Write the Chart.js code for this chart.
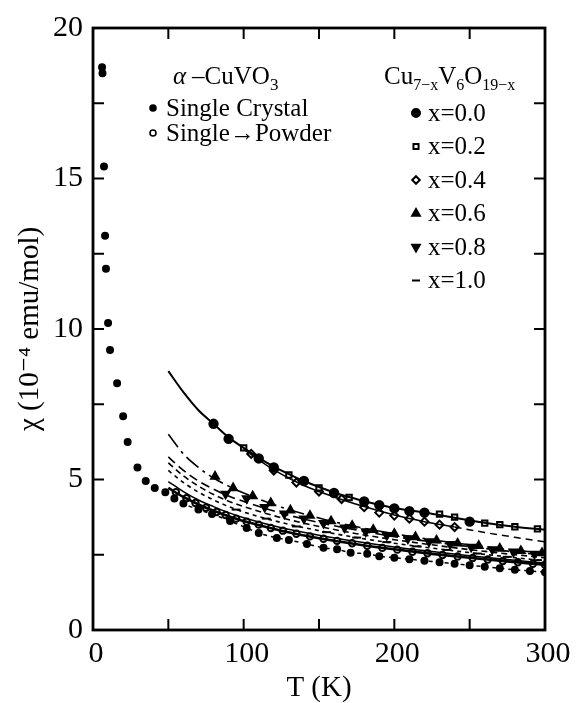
<!DOCTYPE html>
<html>
<head>
<meta charset="utf-8">
<script src="https://cdn.jsdelivr.net/npm/chart.js@4.4.1/dist/chart.umd.min.js"></script>
<style>
  html, body { margin: 0; padding: 0; background: #fff; }
  canvas { display: block; }
</style>
</head>
<body>
<canvas id="chiChart" width="580" height="703"></canvas>
<script>
// alpha-CuVO3 single crystal, full range
const crystalT = [6, 6.3, 7.3, 8, 8.6, 10, 11.3, 16, 20, 23, 29.5, 35, 41, 48, 54, 60, 70, 79, 91, 102, 110, 122, 130, 142, 153, 162, 171, 182, 190, 200, 210, 220, 230, 240, 250, 260, 270, 280, 290, 300];
const crystalChi = [18.7, 18.5, 15.4, 13.1, 12.0, 10.2, 9.3, 8.2, 7.1, 6.25, 5.4, 4.95, 4.72, 4.58, 4.37, 4.2, 4.0, 3.85, 3.62, 3.39, 3.22, 3.06, 2.99, 2.86, 2.73, 2.68, 2.57, 2.53, 2.45, 2.4, 2.35, 2.3, 2.25, 2.2, 2.15, 2.1, 2.05, 2.0, 1.96, 1.92];

// single crystal ground to powder
const powderT = [55, 62, 68, 75, 82, 88, 95, 102, 110, 118, 126, 135, 144, 153, 162, 172, 182, 192, 202, 212, 222, 232, 242, 252, 262, 272, 282, 292, 300];
const powderChi = [4.58, 4.38, 4.22, 4.06, 3.92, 3.82, 3.7, 3.6, 3.5, 3.39, 3.3, 3.2, 3.11, 3.03, 2.96, 2.88, 2.8, 2.73, 2.67, 2.6, 2.55, 2.49, 2.44, 2.39, 2.34, 2.29, 2.25, 2.2, 2.17];

// Cu(7-x)V6O(19-x) samples
const x00T = [80, 90, 110, 120, 140, 160, 180, 190, 200, 210, 220, 250];
const x00Chi = [6.85, 6.35, 5.7, 5.4, 4.95, 4.55, 4.27, 4.15, 4.04, 3.95, 3.9, 3.6];
const x02T = [100, 130, 150, 170, 230, 240, 260, 270, 280, 295];
const x02Chi = [6.05, 5.15, 4.72, 4.4, 3.85, 3.75, 3.55, 3.5, 3.43, 3.36];
const x04T = [105, 120, 135, 150, 165, 180, 190, 200, 210, 220, 230, 240];
const x04Chi = [5.85, 5.3, 4.9, 4.6, 4.35, 4.08, 3.9, 3.8, 3.7, 3.6, 3.5, 3.42];
const x06T = [81, 93, 106, 118, 131, 144, 158, 172, 186, 200, 214, 228, 242, 256, 270, 284, 298];
const x06Chi = [5.1, 4.72, 4.45, 4.22, 3.98, 3.8, 3.62, 3.47, 3.33, 3.2, 3.09, 2.98, 2.88, 2.8, 2.71, 2.63, 2.56];
const x08T = [88, 102, 114, 127, 140, 153, 167, 181, 195, 209, 223, 237, 251, 265, 279, 293];
const x08Chi = [4.52, 4.37, 4.08, 3.86, 3.7, 3.55, 3.4, 3.27, 3.15, 3.04, 2.94, 2.85, 2.76, 2.68, 2.6, 2.53];
const x10T = [95, 115, 135, 155, 175, 195, 215, 235, 255, 275, 295];
const x10Chi = [4.0, 3.7, 3.44, 3.25, 3.07, 2.92, 2.78, 2.66, 2.54, 2.43, 2.32];

// fitted curves
const topFitT = [50, 60, 70, 80, 90, 100, 110, 120, 130, 140, 150, 160, 170, 180, 190, 200, 220, 240, 260, 280, 300];
const topFit = [8.6, 7.9, 7.3, 6.85, 6.4, 6.05, 5.72, 5.43, 5.18, 4.95, 4.75, 4.57, 4.42, 4.28, 4.16, 4.05, 3.9, 3.73, 3.56, 3.43, 3.33];
const x04FitT = [100, 120, 140, 160, 180, 200, 220, 240];
const x04Fit = [6.0, 5.32, 4.8, 4.42, 4.1, 3.82, 3.6, 3.42];
const x04TailT = [240, 260, 280, 300];
const x04Tail = [3.42, 3.24, 3.08, 2.93];
const bundleT = [50, 60, 70, 80, 90, 100, 125, 150, 175, 200, 225, 250, 275, 300];
const fitA = [6.5, 5.85, 5.4, 5.05, 4.78, 4.55, 4.08, 3.72, 3.43, 3.2, 3.0, 2.83, 2.68, 2.55];
const fitB = [5.75, 5.3, 4.95, 4.68, 4.45, 4.27, 3.88, 3.57, 3.32, 3.1, 2.93, 2.77, 2.62, 2.48];
const fitC = [5.55, 5.12, 4.78, 4.5, 4.28, 4.1, 3.73, 3.44, 3.2, 3.0, 2.83, 2.67, 2.53, 2.4];
const fitD = [5.3, 4.9, 4.58, 4.32, 4.1, 3.92, 3.57, 3.3, 3.07, 2.88, 2.72, 2.57, 2.43, 2.3];
const fitE = [4.93, 4.6, 4.32, 4.1, 3.9, 3.73, 3.4, 3.15, 2.94, 2.76, 2.61, 2.47, 2.34, 2.22];
const fitF = [4.72, 4.42, 4.17, 3.96, 3.78, 3.62, 3.3, 3.05, 2.85, 2.68, 2.53, 2.4, 2.28, 2.17];

const tTicks = [0, 100, 200, 300];
const chiTicks = [0, 5, 10, 15, 20];

const SERIF = '"Liberation Serif", "DejaVu Serif", serif';

function pts(xs, ys) {
  return xs.map((t, i) => ({ x: t, y: ys[i] }));
}

function marks(xs, ys, style, radius, filled, rotation) {
  return {
    data: pts(xs, ys),
    showLine: false,
    pointStyle: style,
    pointRadius: radius,
    pointRotation: rotation || 0,
    pointBorderWidth: 2,
    pointBorderColor: '#000',
    pointBackgroundColor: filled ? '#000' : '#fff'
  };
}

function curve(xs, ys, dash, width) {
  return {
    data: pts(xs, ys),
    showLine: true,
    borderColor: '#000',
    borderWidth: width,
    borderDash: dash,
    pointRadius: 0,
    cubicInterpolationMode: 'monotone',
    fill: false
  };
}

// box around the plot with inward ticks
const frame = {
  id: 'frame',
  afterDraw(chart) {
    const { ctx, chartArea: a, scales } = chart;
    ctx.save();
    ctx.strokeStyle = '#000';
    ctx.lineWidth = 2.8;
    ctx.strokeRect(a.left, a.top, a.right - a.left, a.bottom - a.top);
    ctx.lineWidth = 2;
    ctx.beginPath();
    scales.x.ticks.forEach(t => {
      const px = scales.x.getPixelForValue(t.value);
      ctx.moveTo(px, a.bottom); ctx.lineTo(px, a.bottom - 11);
      ctx.moveTo(px, a.top); ctx.lineTo(px, a.top + 11);
    });
    scales.y.ticks.forEach(t => {
      const py = scales.y.getPixelForValue(t.value);
      ctx.moveTo(a.left, py); ctx.lineTo(a.left + 11, py);
      ctx.moveTo(a.right, py); ctx.lineTo(a.right - 11, py);
    });
    ctx.stroke();
    ctx.restore();
  }
};

// two-column key drawn inside the plot
const key = {
  id: 'key',
  afterDraw(chart) {
    const ctx = chart.ctx;
    const draw = Chart.helpers.drawPoint;
    ctx.save();
    ctx.fillStyle = '#000';
    ctx.strokeStyle = '#000';
    ctx.textBaseline = 'alphabetic';
    ctx.textAlign = 'left';

    // alpha-CuVO3 block
    let x = 173;
    ctx.font = 'italic 25px ' + SERIF;
    ctx.fillText('α', x, 84);
    x += ctx.measureText('α').width + 6;
    ctx.font = '25px ' + SERIF;
    ctx.fillText('–CuVO', x, 84);
    x += ctx.measureText('–CuVO').width;
    ctx.font = '17px ' + SERIF;
    ctx.fillText('3', x, 90);

    ctx.font = '25px ' + SERIF;
    ctx.textBaseline = 'middle';
    ctx.lineWidth = 1.6;
    draw(ctx, { pointStyle: 'circle', radius: 3, borderWidth: 1.6 }, 153, 108);
    ctx.fillText('Single Crystal', 166, 109);
    ctx.fillStyle = '#fff';
    draw(ctx, { pointStyle: 'circle', radius: 3, borderWidth: 1.6 }, 153, 133);
    ctx.fillStyle = '#000';
    ctx.fillText('Single→Powder', 166, 134);

    // Cu(7-x)V6O(19-x) block
    ctx.textBaseline = 'alphabetic';
    x = 384;
    const parts = [['Cu', 0], ['7−x', 1], ['V', 0], ['6', 1], ['O', 0], ['19−x', 1]];
    parts.forEach(([s, sub]) => {
      ctx.font = (sub ? '16px ' : '25px ') + SERIF;
      ctx.fillText(s, x, sub ? 90 : 84);
      x += ctx.measureText(s).width;
    });

    const rows = [
      ['x=0.0', 'circle', 4, true, 0],
      ['x=0.2', 'rect', 3.6, false, 0],
      ['x=0.4', 'rectRot', 3.8, false, 0],
      ['x=0.6', 'triangle', 4.4, true, 0],
      ['x=0.8', 'triangle', 4.4, true, 180],
      ['x=1.0', 'line', 4, true, 0]
    ];
    ctx.font = '25px ' + SERIF;
    ctx.textBaseline = 'middle';
    rows.forEach(([label, style, r, filled, rot], i) => {
      const y = 113 + i * 33.5;
      ctx.fillStyle = filled ? '#000' : '#fff';
      ctx.lineWidth = 2;
      draw(ctx, { pointStyle: style, radius: r, rotation: rot, borderWidth: 2 }, 416, y);
      ctx.fillStyle = '#000';
      ctx.fillText(label, 428, y + 1);
    });
    ctx.restore();
  }
};

const ctx = document.getElementById('chiChart').getContext('2d');

new Chart(ctx, {
  type: 'scatter',
  data: {
    datasets: [
      curve(topFitT, topFit, [], 2),
      curve(x04FitT, x04Fit, [], 1.5),
      curve(x04TailT, x04Tail, [7, 5], 1.5),
      curve(bundleT, fitA, [16, 5, 3, 5], 1.6),
      curve(bundleT, fitB, [9, 5], 1.6),
      curve(bundleT, fitC, [6, 4], 1.6),
      curve(bundleT, fitD, [4, 4], 1.6),
      curve(bundleT, fitE, [], 1.5),
      curve(bundleT, fitF, [], 2.6),
      curve(crystalT.slice(14), crystalChi.slice(14), [4, 4], 1.5),
      marks(crystalT, crystalChi, 'circle', 3, true),
      marks(powderT, powderChi, 'circle', 3.2, false),
      marks(x00T, x00Chi, 'circle', 4.2, true),
      marks(x02T, x02Chi, 'rect', 3.8, false),
      marks(x04T, x04Chi, 'rectRot', 4, false),
      marks(x06T, x06Chi, 'triangle', 4.4, true),
      marks(x08T, x08Chi, 'triangle', 4.4, true, 180),
      marks(x10T, x10Chi, 'line', 4.5, true)
    ]
  },
  options: {
    responsive: false,
    animation: false,
    events: [],
    layout: { padding: { top: 22, right: 35, left: 0, bottom: 0 } },
    plugins: {
      legend: { display: false },
      tooltip: { enabled: false }
    },
    scales: {
      x: {
        type: 'linear',
        min: 0,
        max: 300,
        afterFit(scale) { scale.height = 73; },
        grid: { display: false, drawTicks: false },
        border: { display: false },
        ticks: {
          stepSize: 50,
          autoSkip: false,
          maxRotation: 0,
          padding: 6,
          labelOffset: 3,
          color: '#000',
          font: { family: SERIF, size: 30 },
          callback: v => (tTicks.includes(v) ? v : '')
        },
        title: {
          display: true,
          text: 'T (K)',
          color: '#000',
          font: { family: SERIF, size: 29, lineHeight: 1 },
          padding: { top: 0, bottom: 0 }
        }
      },
      y: {
        type: 'linear',
        min: 0,
        max: 20,
        afterFit(scale) { scale.width = 93; },
        grid: { display: false, drawTicks: false },
        border: { display: false },
        ticks: {
          stepSize: 2.5,
          autoSkip: false,
          padding: 10,
          color: '#000',
          font: { family: SERIF, size: 30 },
          callback: v => (chiTicks.includes(v) ? v : '')
        },
        title: {
          display: true,
          text: 'χ (10⁻⁴ emu/mol)',
          color: '#000',
          font: { family: SERIF, size: 29, lineHeight: 1 },
          padding: { top: 16, bottom: 0 }
        }
      }
    }
  },
  plugins: [frame, key]
});
</script>
</body>
</html>
